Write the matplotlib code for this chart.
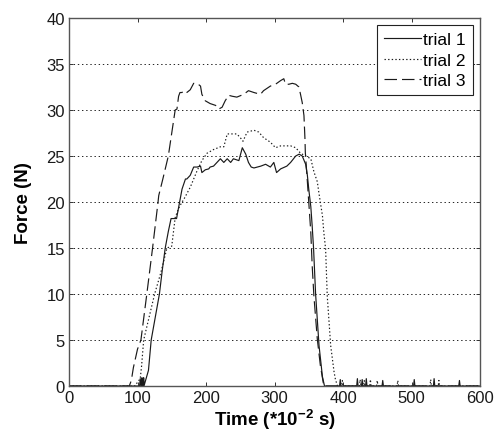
import matplotlib
matplotlib.use("Agg")
import matplotlib.pyplot as plt

# ---- data (time in 10^-2 s, force in N) ----
t1 = [0, 103, 104, 105, 106, 106.5, 107, 108.5, 109, 109.5, 111, 116, 120, 126, 132, 136, 140.5, 145, 149, 157,
      161.5, 165, 170, 172, 177, 182, 187, 192, 194, 199, 204, 206, 211, 216, 221, 226, 231, 236, 240, 248,
      253, 258, 262, 266, 270, 280, 287, 294, 299, 303, 309, 318, 323.5, 331, 336, 340.5, 345.5, 348, 350,
      353, 355, 357, 360, 365, 370, 373,
      395, 396, 397, 420, 421, 422, 427, 428, 429, 433, 434, 435, 457, 458, 459, 503, 504, 505, 532, 533, 534,
      569, 570, 571, 600]
f1 = [0, 0, 0.8, 0, 0, 0.9, 0, 0, 0.9, 0, 0.4, 1.7, 5.0, 7.5, 10.0, 12.5, 15.0, 16.8, 18.2, 18.2,
      20.0, 21.4, 22.5, 22.5, 22.9, 23.8, 23.8, 23.9, 23.2, 23.5, 23.6, 23.8, 23.9, 24.3, 24.7, 24.3, 24.7, 24.3, 24.7, 24.5,
      25.9, 25.2, 24.3, 23.8, 23.7, 23.9, 24.1, 23.8, 24.3, 23.2, 23.6, 23.9, 24.3, 25.0, 25.2, 25.0, 24.1, 22.9, 21.4,
      19.5, 17.4, 15.0, 10.0, 4.4, 1.0, 0,
      0, 0.7, 0, 0, 0.8, 0, 0, 0.7, 0, 0, 0.8, 0, 0, 0.6, 0, 0, 0.7, 0, 0, 0.8, 0,
      0, 0.6, 0, 0]

t2 = [0, 96, 100, 104, 106, 109, 117, 125, 134, 143, 150, 155, 160, 165, 167, 177, 187, 194, 201.5, 211,
      221, 226, 231, 245, 250, 254, 260, 270, 277, 284, 294, 301.5, 309, 323.5, 331, 338, 345.5, 353,
      357.5, 362.5, 365, 370, 372, 374.6, 377, 382, 387, 389, 392,
      398, 399, 400, 424, 425, 426, 430, 431, 432, 439, 440, 441, 449, 450, 451, 479, 480, 481,
      527, 528, 529, 539, 540, 541, 600]
f2 = [0, 0, 0.4, 0.8, 2.2, 5.0, 7.5, 10.0, 12.3, 15.0, 15.2, 18.3, 19.3, 20.0, 20.2, 21.6, 23.4, 24.5, 25.3, 25.7,
      26.0, 26.0, 27.4, 27.4, 27.0, 26.6, 27.6, 27.8, 27.6, 27.0, 26.5, 25.9, 26.1, 26.1, 25.9, 25.3, 25.0, 24.7,
      23.3, 22.2, 20.9, 18.5, 16.7, 14.9, 9.8, 4.4, 1.5, 0.7, 0,
      0, 0.6, 0, 0, 0.7, 0, 0, 0.6, 0, 0, 0.7, 0, 0, 0.6, 0, 0, 0.6, 0,
      0, 0.7, 0, 0, 0.6, 0, 0]

t3 = [0, 88, 91, 94, 100, 105, 113.6, 122, 130, 131, 137, 145, 150, 155, 157.6, 160, 162, 165, 167, 172,
      177, 182, 187, 192, 194, 199, 206, 214, 218.5, 223.5, 228, 233, 238, 245, 255, 262, 270, 279.5, 284,
      294, 301.5, 309, 313.6, 316, 321, 326, 331, 335.6, 338, 340.5, 343, 344.5, 345, 348, 353, 355, 357.5,
      362.5, 367, 372, 600]
f3 = [0, 0, 0.6, 2.0, 4.0, 5.0, 10.0, 15.0, 20.0, 20.7, 22.5, 25.0, 27.5, 30.0, 30.1, 31.5, 31.9, 31.9, 32.1, 31.9,
      32.2, 32.9, 32.9, 32.6, 31.7, 31.0, 30.7, 30.5, 30.1, 30.3, 31.0, 31.6, 31.5, 31.4, 31.7, 32.1, 31.9, 31.7, 32.1,
      32.6, 32.8, 33.2, 33.4, 32.8, 32.8, 32.9, 32.8, 32.5, 31.7, 30.8, 29.4, 26.8, 25.4, 22.2, 16.7, 13.1, 9.8,
      5.1, 2.2, 0, 0]

labels = ["trial 1", "trial 2", "trial 3"]
xticks = [0, 100, 200, 300, 400, 500, 600]
yticks = [0, 5, 10, 15, 20, 25, 30, 35, 40]

plt.rcParams['font.family'] = ['Liberation Sans', 'DejaVu Sans']
plt.rcParams['mathtext.fontset'] = 'custom'
plt.rcParams['mathtext.rm'] = 'Liberation Sans'
plt.rcParams['mathtext.bf'] = 'Liberation Sans:bold'
plt.rcParams['lines.scale_dashes'] = False

fig = plt.figure(figsize=(4.96, 4.35), dpi=100)
ax = fig.add_axes([69/496, 1-387/435, (480-69)/496, (387-19)/435])

ax.plot(t1, f1, color='#1a1a1a', lw=0.85, linestyle='-', label=labels[0])
ax.plot(t2, f2, color='#1a1a1a', lw=0.85, linestyle=(0, (1.0, 1.6)), label=labels[1])
ax.plot(t3, f3, color='#1a1a1a', lw=0.85, linestyle=(0, (9, 3.6)), label=labels[2])

ax.set_xlim(0, 600)
ax.set_ylim(0, 40)
ax.set_xticks(xticks)
ax.set_yticks(yticks)
ax.tick_params(direction='in', length=3, width=0.7, top=True, right=True,
               labelsize=12, pad=3, colors='#333333', labelcolor='#1a1a1a')
ax.yaxis.grid(True, color='black', linestyle=(0, (1, 2)), lw=0.6)
ax.xaxis.grid(False)
for s in ax.spines.values():
    s.set_color('#555555')
    s.set_linewidth(1.0)

ax.set_xlabel(r'Time (*10$^{\mathbf{-2}}$ s)', fontsize=13.5, fontweight='bold', labelpad=1)
ax.set_ylabel('Force (N)', fontsize=13.5, fontweight='bold', labelpad=10)

leg = ax.legend(loc='upper right', fontsize=12.5, frameon=True, fancybox=False, framealpha=1,
                edgecolor='#222222', handlelength=2.1, handletextpad=0.15, borderpad=0.4,
                labelspacing=0.32, borderaxespad=0.4)
leg.get_frame().set_linewidth(0.8)

fig.savefig('out.png', dpi=100)
